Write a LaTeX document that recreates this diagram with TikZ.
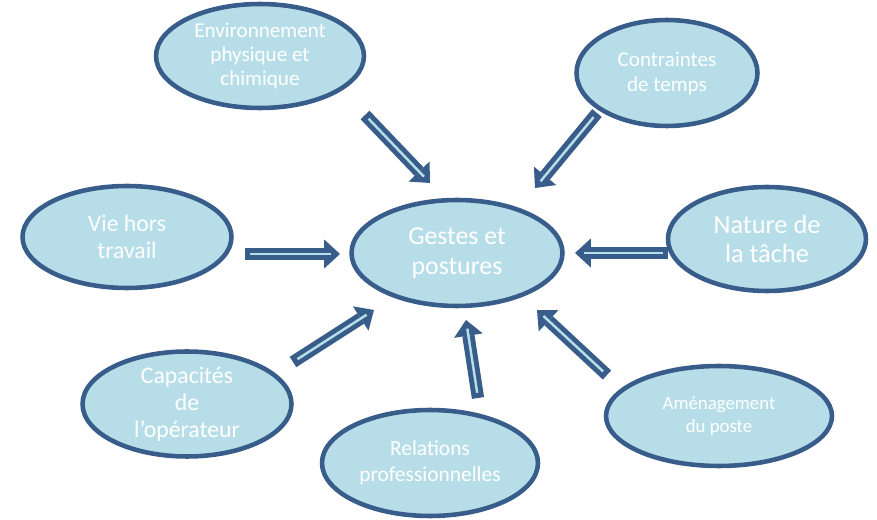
\documentclass[tikz,border=0pt]{standalone}
\usepackage{fontspec}
\setmainfont{Carlito}
\usepackage{tikz}
\usetikzlibrary{arrows.meta,shapes.geometric}
\definecolor{bord}{HTML}{385D8A}
\definecolor{fond}{HTML}{B7DEE8}
\tikzset{
  bulle/.style={ellipse, draw=bord, fill=fond, line width=2.6pt, text=white, align=center, inner sep=0pt},
  fleche/.style={draw=bord, line width=7pt, -{Triangle[width=16.5pt,length=9pt,line width=0pt]}},
  filet/.style={draw=fond, line width=1.4pt, shorten <=3pt, shorten >=5pt},
}
\newcommand{\fs}[2]{\fontsize{#1}{#2}\selectfont}

\begin{document}
\begin{tikzpicture}[x=0.02cm,y=-0.02cm]
\useasboundingbox (0,0) rectangle (877,520);
% les facteurs
\node[bulle,minimum width=4.16cm,minimum height=2.08cm,font=\fs{12}{13.8}] (env) at (260,56) {Environnement\\physique et\\chimique};
\node[bulle,minimum width=3.62cm,minimum height=2.12cm,font=\fs{12}{14.2}] (ctr) at (667,73) {Contraintes\\de temps};
\node[bulle,minimum width=4.18cm,minimum height=2.04cm,font=\fs{13.5}{15.5}] (vie) at (127,237) {Vie hors\\travail};
\node[bulle,minimum width=4.22cm,minimum height=2.12cm,font=\fs{14.7}{17}] (gp) at (457,253) {Gestes et\\postures};
\node[bulle,minimum width=3.96cm,minimum height=2.08cm,font=\fs{15}{17}] (nat) at (767,239) {Nature de\\la tâche};
\node[bulle,minimum width=4.18cm,minimum height=2.10cm,font=\fs{13.5}{15.3}] (cap) at (187,404) {Capacités\\de\\l’opérateur};
\node[bulle,minimum width=4.32cm,minimum height=2.12cm,font=\fs{12.2}{14.8}] (rel) at (430,463) {Relations\\professionnelles};
\node[bulle,minimum width=4.52cm,minimum height=2.00cm,font=\fs{10.7}{13}] (amg) at (719,416) {Aménagement\\du poste};
% les fleches
\coordinate (envA) at (365,115); \coordinate (envB) at (430,183);
\coordinate (ctrA) at (597,113); \coordinate (ctrB) at (535,188);
\coordinate (vieA) at (245,254); \coordinate (vieB) at (340,254);
\coordinate (natA) at (668,253); \coordinate (natB) at (575,253);
\coordinate (capA) at (293,362); \coordinate (capB) at (374,310);
\coordinate (relA) at (478,398); \coordinate (relB) at (466,320);
\coordinate (amgA) at (607,375); \coordinate (amgB) at (537,310);
\foreach \a/\b in {envA/envB,ctrA/ctrB,vieA/vieB,natA/natB,capA/capB,relA/relB,amgA/amgB}{
  \draw[fleche](\a)--(\b);
  \draw[filet](\a)--(\b);
}
\end{tikzpicture}
\end{document}
